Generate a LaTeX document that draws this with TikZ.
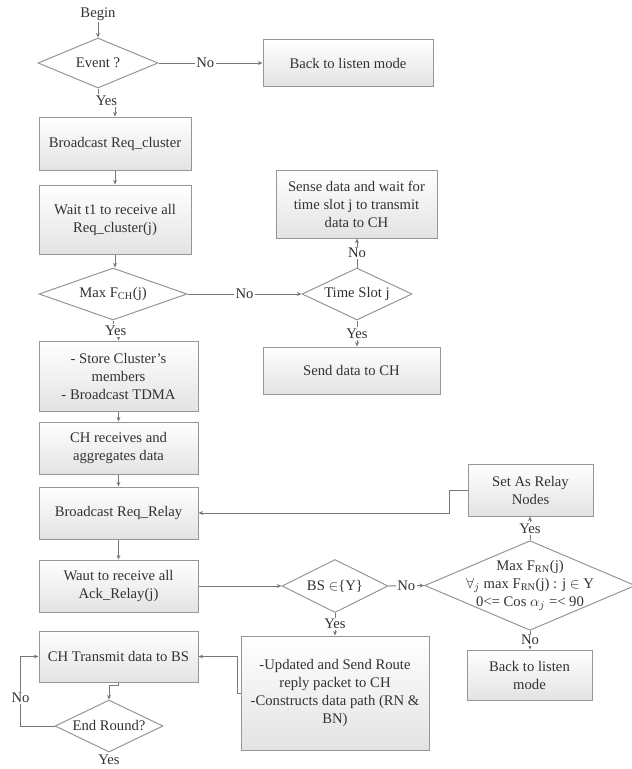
\documentclass[tikz,border=0pt]{standalone}
\usepackage{fontspec}
\setmainfont{Liberation Serif}
\usetikzlibrary{shapes.geometric,arrows.meta}

\definecolor{lineg}{RGB}{120,120,120}
\definecolor{boxg}{RGB}{150,150,150}
\definecolor{txtg}{RGB}{50,50,50}

\tikzset{every picture/.style={line width=0.75pt}}
\tikzset{
  flowfont/.style={font=\fontsize{11}{13.5}\selectfont},
  procbox/.style={rectangle, draw=boxg, top color=white, bottom color=black!11,
    text=txtg, align=center, inner sep=0.75pt, flowfont},
  decide/.style={diamond, draw=boxg, fill=white, text=txtg, align=center,
    inner sep=0pt, flowfont},
  lbl/.style={fill=white, inner sep=1pt, text=txtg, flowfont},
  flow/.style={draw=lineg, -{Stealth[length=3.5pt,width=3pt]}},
}

\begin{document}
\begin{tikzpicture}[x=0.75pt,y=0.75pt,yscale=-1,xscale=1]
	\path[use as bounding box] (0,0) rectangle (632,769); %set diagram size 632 x 769
	
	% Text Node
	\node [lbl] (begin) at (98,14) {Begin};
	% Decision
	\node [decide, aspect=2.4, minimum width=90pt, minimum height=37.5pt] (event) at (98,63) {Event ?};
	% Process
	\node [procbox, minimum width=127.5pt, minimum height=35.25pt] (listena) at (348,63) {Back to listen mode};
	% Process
	\node [procbox, minimum width=114pt, minimum height=39.75pt] (bcast) at (115,143.5) {Broadcast Req\_cluster};
	% Process
	\node [procbox, minimum width=114pt, minimum height=51.75pt] (waitreq) at (115,219.5) {Wait t1 to receive all\\Req\_cluster(j)};
	% Process
	\node [procbox, minimum width=120.75pt, minimum height=51pt] (sense) at (356.5,204) {Sense data and wait for\\time slot j to transmit\\data to CH};
	% Decision
	\node [decide, aspect=2.85, minimum width=111pt, minimum height=39pt] (maxch) at (113,294) {Max F\textsubscript{CH}(j)};
	% Decision
	\node [decide, aspect=2.1, minimum width=82.5pt, minimum height=39pt] (slot) at (357,294) {Time Slot j};
	% Process
	\node [procbox, minimum width=132.75pt, minimum height=35.25pt] (send) at (351.5,370.5) {Send data to CH};
	% Process
	\node [procbox, minimum width=119.25pt, minimum height=52.5pt] (store) at (118.5,376) {- Store Cluster's\\members\\- Broadcast TDMA};
	% Process
	\node [procbox, minimum width=119.25pt, minimum height=39pt] (chrecv) at (118.5,448) {CH receives and\\aggregates data};
	% Process
	\node [procbox, minimum width=119.25pt, minimum height=39pt] (reqrelay) at (118.5,513) {Broadcast Req\_Relay};
	% Process
	\node [procbox, minimum width=119.25pt, minimum height=39pt] (ackrelay) at (118.5,586) {Waut to receive all\\Ack\_Relay(j)};
	% Process
	\node [procbox, minimum width=93.75pt, minimum height=39pt] (setrelay) at (530.5,490) {Set As Relay\\Nodes};
	% Decision
	\node [decide, aspect=2.35, inner sep=-4pt, minimum width=150pt, minimum height=63.75pt] (maxrn) at (530,585.5) {Max F\textsubscript{RN}(j)\\$\forall_j$ max F\textsubscript{RN}(j) : j $\in$ Y\\0<= Cos $\alpha_j$ =< 90};
	% Decision
	\node [decide, aspect=2, minimum width=79.5pt, minimum height=39.75pt] (bsin) at (335,586) {BS $\in$\{Y\}};
	% Process
	\node [procbox, minimum width=141pt, minimum height=85.5pt] (update) at (335,693) {-Updated and Send Route\\reply packet to CH\\-Constructs data path (RN \&\\BN)};
	% Process
	\node [procbox, minimum width=93.75pt, minimum height=37.5pt] (listenb) at (529.5,675) {Back to listen\\mode};
	% Process
	\node [procbox, minimum width=119.25pt, minimum height=38.25pt] (chtx) at (118.5,656.5) {CH Transmit data to BS};
	% Decision
	\node [decide, aspect=2.08, minimum width=81pt, minimum height=39pt] (endround) at (109,726) {End Round?};
	% Text Node
	\node [lbl] (endyes) at (109,760) {Yes};
	
	%Connectors
	\draw [flow] (begin) -- (event);
	\draw [flow] (event.east) -- node [lbl, pos=0.45] {No} (listena.west);
	\draw [flow] (event.south) -- ++(0,12) -| node [lbl, pos=0.25] {Yes} (bcast.north);
	\draw [flow] (bcast) -- (waitreq);
	\draw [flow] (waitreq.south) -- (waitreq.south |- maxch.north);
	\draw [flow] (maxch.east) -- node [lbl] {No} (slot.west);
	\draw [flow] (slot.north) -- node [lbl] {No} (slot.north |- sense.south);
	\draw [flow] (slot.south) -- node [lbl] {Yes} (slot.south |- send.north);
	\draw [flow] (maxch.south) -- ++(0,10) -| node [lbl, pos=0.25] {Yes} (store.north);
	\draw [flow] (store) -- (chrecv);
	\draw [flow] (chrecv) -- (reqrelay);
	\draw [flow] (reqrelay) -- (ackrelay);
	\draw [flow] (ackrelay.east) -- (bsin.west);
	\draw [flow] (bsin.east) -- node [lbl] {No} (maxrn.west);
	\draw [flow] (maxrn.north) -- node [lbl] {Yes} (maxrn.north |- setrelay.south);
	\draw [flow] (setrelay.west) -- ++(-18,0) |- (reqrelay.east);
	\draw [flow] (maxrn.south) -- node [lbl] {No} (maxrn.south |- listenb.north);
	\draw [flow] (bsin.south) -- node [lbl] {Yes} (update.north);
	\draw [flow] (update.west) -- ++(-3,0) |- (chtx.east);
	\draw [flow] (chtx.south) -- ++(0,3) -| (endround.north);
	\draw [flow] (endround.west) -- ++(-34,0) |- node [lbl, pos=0.2] {No} (chtx.west);
	
\end{tikzpicture}
\end{document}
